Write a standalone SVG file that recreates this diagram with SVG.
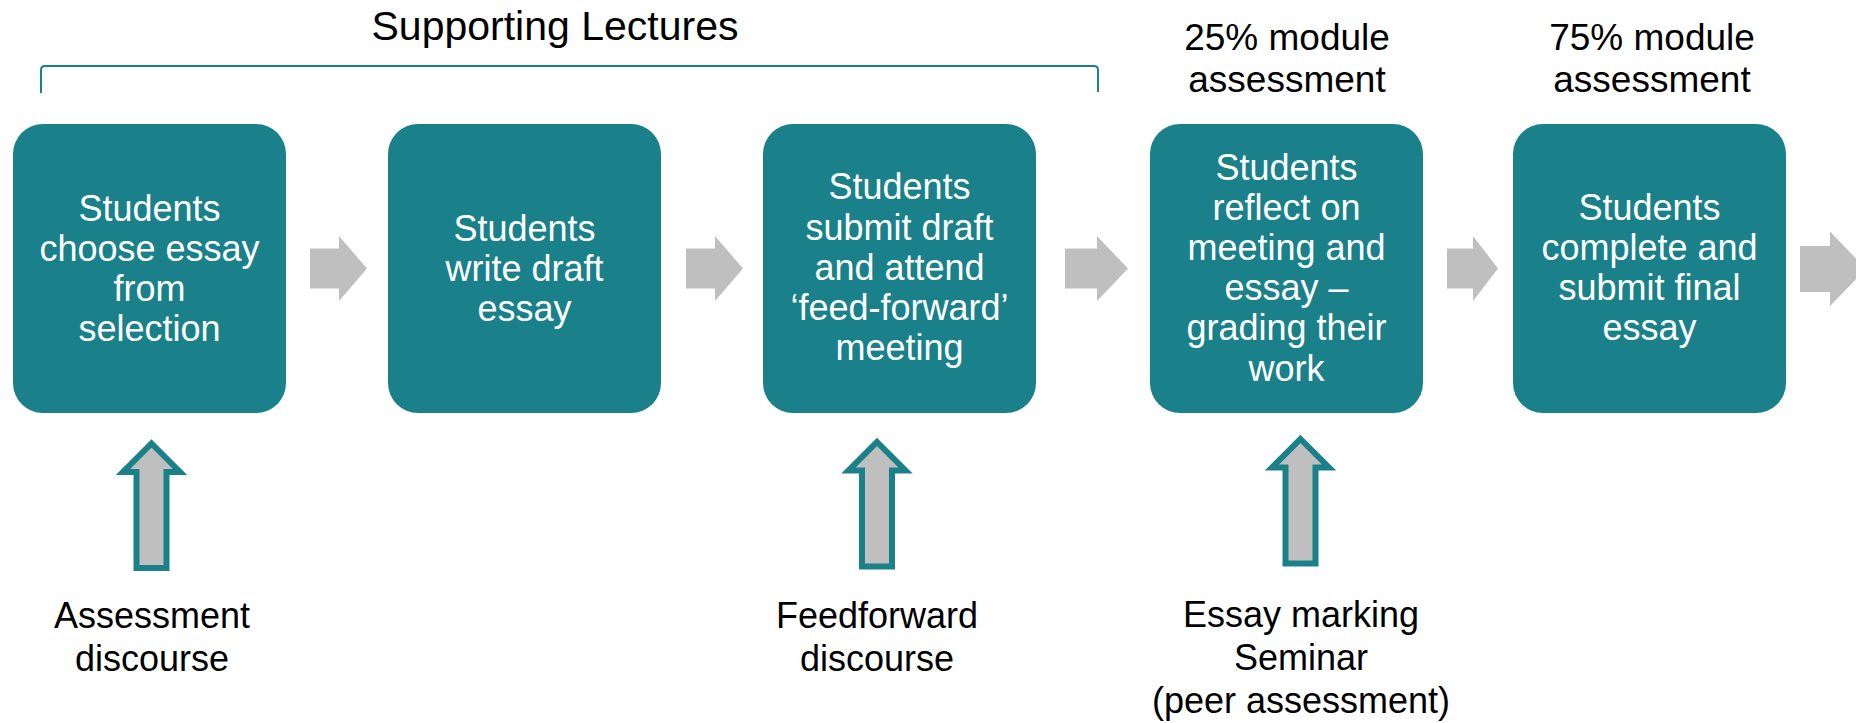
<svg xmlns="http://www.w3.org/2000/svg" width="1856" height="723" viewBox="0 0 1856 723">
<defs>
<style>
.box{fill:#1A818A}
.bt{fill:#FFFFFF;font-family:"Liberation Sans",Arial,sans-serif;font-size:36px;text-anchor:middle}
.lt{fill:#000000;font-family:"Liberation Sans",Arial,sans-serif;font-size:36px;text-anchor:middle}
.ra{fill:#BFBFBF}
.ua{fill:#BFBFBF;stroke:#1A818A;stroke-width:6;stroke-linejoin:miter}
</style>
<path id="up" d="M0,0 L28.5,28.5 L15,28.5 L15,124.5 L-15,124.5 L-15,28.5 L-28.5,28.5 Z"/>
</defs>
<rect width="1856" height="723" fill="#FFFFFF"/>
<g id="title">
<text x="555" y="40" class="lt" style="font-size:41px">Supporting Lectures</text>
<path d="M41,93 L41,70 Q41,66 45,66 L1094,66 Q1098,66 1098,70 L1098,92" fill="none" stroke="#1A818A" stroke-width="2"/>
</g>
<g id="label25">
<text x="1287" y="50" class="lt" style="font-size:37px">25% module</text>
<text x="1287" y="92" class="lt" style="font-size:37px">assessment</text>
</g>
<g id="label75">
<text x="1652" y="50" class="lt" style="font-size:37px">75% module</text>
<text x="1652" y="92" class="lt" style="font-size:37px">assessment</text>
</g>
<g id="node1">
<rect x="13" y="124" width="273" height="289" rx="30" class="box"/>
<text class="bt"><tspan x="149.5" y="221">Students</tspan><tspan x="149.5" y="261">choose essay</tspan><tspan x="149.5" y="301">from</tspan><tspan x="149.5" y="341">selection</tspan></text>
</g>
<g id="node2">
<rect x="388" y="124" width="273" height="289" rx="30" class="box"/>
<text class="bt"><tspan x="524.5" y="241">Students</tspan><tspan x="524.5" y="281">write draft</tspan><tspan x="524.5" y="321">essay</tspan></text>
</g>
<g id="node3">
<rect x="763" y="124" width="273" height="289" rx="30" class="box"/>
<text class="bt"><tspan x="899.5" y="199">Students</tspan><tspan x="899.5" y="239.5">submit draft</tspan><tspan x="899.5" y="280">and attend</tspan><tspan x="899.5" y="320">‘feed-forward’</tspan><tspan x="899.5" y="360">meeting</tspan></text>
</g>
<g id="node4">
<rect x="1150" y="124" width="273" height="289" rx="30" class="box"/>
<text class="bt"><tspan x="1286.5" y="180">Students</tspan><tspan x="1286.5" y="220">reflect on</tspan><tspan x="1286.5" y="260">meeting and</tspan><tspan x="1286.5" y="300">essay –</tspan><tspan x="1286.5" y="340">grading their</tspan><tspan x="1286.5" y="381">work</tspan></text>
</g>
<g id="node5">
<rect x="1513" y="124" width="273" height="289" rx="30" class="box"/>
<text class="bt"><tspan x="1649.5" y="220">Students</tspan><tspan x="1649.5" y="260">complete and</tspan><tspan x="1649.5" y="300">submit final</tspan><tspan x="1649.5" y="340">essay</tspan></text>
</g>
<g id="label-assessment">
<text class="lt"><tspan x="152" y="628">Assessment</tspan><tspan x="152" y="671">discourse</tspan></text>
</g>
<g id="label-feedforward">
<text class="lt"><tspan x="877" y="628">Feedforward</tspan><tspan x="877" y="671">discourse</tspan></text>
</g>
<g id="label-seminar">
<text class="lt"><tspan x="1301" y="627">Essay marking</tspan><tspan x="1301" y="670">Seminar</tspan><tspan x="1301" y="713">(peer assessment)</tspan></text>
</g>
<g id="connectors">
<polygon class="ra" points="310,248.5 339,248.5 339,236 367,268.5 339,301 339,288.5 310,288.5"/>
<polygon class="ra" points="686,248.5 715,248.5 715,236 743,268.5 715,301 715,288.5 686,288.5"/>
<polygon class="ra" points="1065,248.5 1097,248.5 1097,236 1128,268.5 1097,301 1097,288.5 1065,288.5"/>
<polygon class="ra" points="1447,248.5 1473,248.5 1473,236 1498,268.5 1473,301 1473,288.5 1447,288.5"/>
<polygon class="ra" points="1800,246 1830,246 1830,231.5 1866,269 1830,306 1830,292 1800,292"/>
<use href="#up" class="ua" transform="translate(151.5,443.5)"/>
<use href="#up" class="ua" transform="translate(877,442)"/>
<use href="#up" class="ua" transform="translate(1300.5,439)"/>
</g>
</svg>
